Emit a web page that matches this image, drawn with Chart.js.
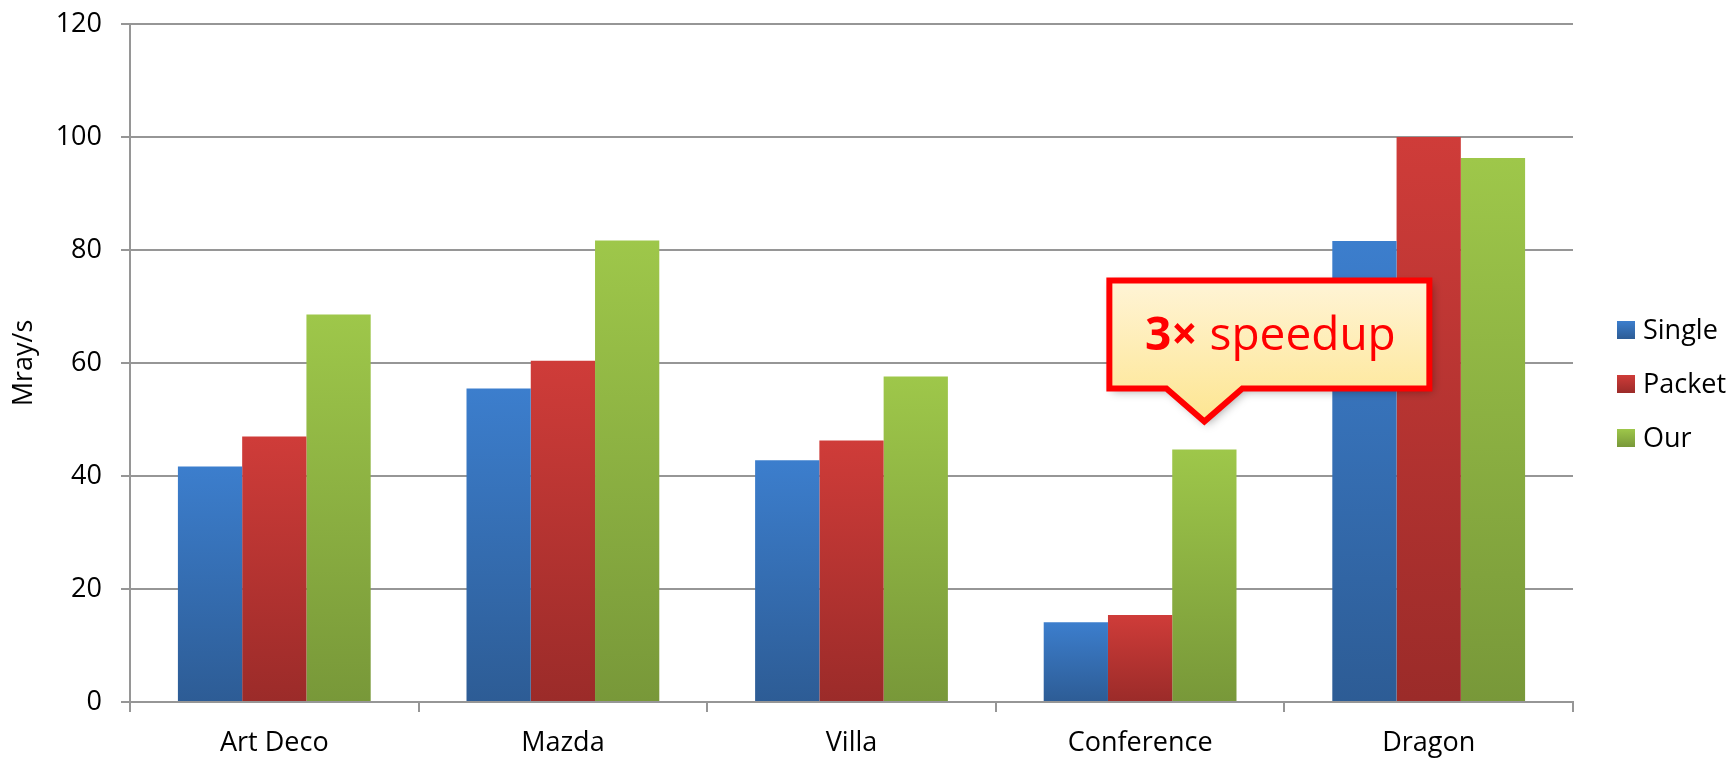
<!DOCTYPE html>
<html>
<head>
<meta charset="utf-8">
<title>Mray/s</title>
<script src="https://cdn.jsdelivr.net/npm/chart.js@4/dist/chart.umd.min.js"></script>
<style>
  html, body { margin: 0; padding: 0; background: #fff; }
  #wrap { width: 1733px; height: 759px; }
</style>
</head>
<body>
<div id="wrap"><canvas id="chart" width="1733" height="759"></canvas></div>
<script>
// Escenas y rendimiento (Mray/s) de cada variante
const escenas = ['Art Deco', 'Mazda', 'Villa', 'Conference', 'Dragon'];
const single = [41.7, 55.5, 42.8, 14.1, 81.6];
const packet = [47.0, 60.4, 46.3, 15.4, 100.0];
const our = [68.6, 81.7, 57.6, 44.7, 96.3];
const series = ['Single', 'Packet', 'Our'];
const yTicks = [0, 20, 40, 60, 80, 100, 120];

const FONT = '"Open Sans", "Noto Sans", sans-serif';

// Degradado vertical para cada barra (de arriba a la base)
function barFill(top, bottom) {
  return function (ctx) {
    const chart = ctx.chart;
    if (!chart.chartArea || ctx.type !== 'data') return top;
    const y = chart.scales.y;
    const yTop = y.getPixelForValue(ctx.raw);
    const yBase = y.getPixelForValue(0);
    if (!isFinite(yTop) || !isFinite(yBase) || yTop === yBase) return top;
    const g = chart.ctx.createLinearGradient(0, yTop, 0, yBase);
    g.addColorStop(0, top);
    g.addColorStop(1, bottom);
    return g;
  };
}

const colores = [
  ['#3c7ecd', '#2d5c95'],
  ['#cf3c39', '#9b2b29'],
  ['#9ec74a', '#789839']
];

// Leyenda dibujada a mano a la derecha del área del gráfico
const leyenda = {
  id: 'leyenda',
  afterDraw(chart) {
    const ctx = chart.ctx;
    const x = chart.chartArea.right + 44;
    const mid = 384;
    const paso = 54;
    ctx.save();
    ctx.font = '27px ' + FONT;
    ctx.textBaseline = 'middle';
    ctx.fillStyle = '#000';
    chart.data.datasets.forEach(function (ds, i) {
      const cy = mid + (i - 1) * paso;
      const g = ctx.createLinearGradient(0, cy - 9, 0, cy + 9);
      g.addColorStop(0, colores[i][0]);
      g.addColorStop(1, colores[i][1]);
      ctx.fillStyle = g;
      ctx.fillRect(x, cy - 9, 18, 18);
      ctx.fillStyle = '#000';
      ctx.fillText(ds.label, x + 26, cy + 1);
    });
    ctx.restore();
  }
};

// Globo "3× speedup" apuntando a la barra Our de Conference
const globo = {
  id: 'globo',
  afterDraw(chart) {
    const el = chart.getDatasetMeta(2).data[3];
    if (!el) return;
    const tx = el.x;
    const ty = el.y - 24;
    const L = tx - 95, R = tx + 225, T = ty - 145, B = ty - 37;
    const ctx = chart.ctx;
    ctx.save();
    ctx.beginPath();
    ctx.moveTo(L, T);
    ctx.lineTo(R, T);
    ctx.lineTo(R, B);
    ctx.lineTo(tx + 38, B);
    ctx.lineTo(tx, ty - 4);
    ctx.lineTo(tx - 38, B);
    ctx.lineTo(L, B);
    ctx.closePath();
    const g = ctx.createLinearGradient(0, T, 0, ty);
    g.addColorStop(0, '#fff4d6');
    g.addColorStop(1, '#fde58f');
    ctx.shadowColor = 'rgba(0,0,0,0.35)';
    ctx.shadowBlur = 10;
    ctx.shadowOffsetX = 3;
    ctx.shadowOffsetY = 3;
    ctx.fillStyle = g;
    ctx.fill();
    ctx.shadowColor = 'transparent';
    ctx.lineWidth = 6;
    ctx.lineJoin = 'miter';
    ctx.strokeStyle = '#ff0000';
    ctx.stroke();

    // Texto: "3×" en negrita y "speedup" normal
    const bold = 'bold 46px ' + FONT;
    const reg = '46px ' + FONT;
    ctx.font = bold;
    const w1 = ctx.measureText('3×').width;
    ctx.font = reg;
    const w2 = ctx.measureText(' speedup').width;
    const cx = tx + 66;
    const base = ty - 75;
    let x0 = cx - (w1 + w2) / 2;
    ctx.fillStyle = '#ff0000';
    ctx.textBaseline = 'alphabetic';
    ctx.font = bold;
    ctx.fillText('3×', x0, base);
    ctx.font = reg;
    ctx.fillText(' speedup', x0 + w1, base);
    ctx.restore();
  }
};

const datos = {
  labels: escenas,
  datasets: [
    { label: series[0], data: single, backgroundColor: barFill(colores[0][0], colores[0][1]) },
    { label: series[1], data: packet, backgroundColor: barFill(colores[1][0], colores[1][1]) },
    { label: series[2], data: our, backgroundColor: barFill(colores[2][0], colores[2][1]) }
  ]
};

new Chart(document.getElementById('chart'), {
  type: 'bar',
  data: datos,
  options: {
    responsive: false,
    animation: false,
    events: [],
    layout: { padding: { left: 0, right: 160, top: 24, bottom: 0 } },
    datasets: {
      bar: { categoryPercentage: 0.668, barPercentage: 1.0, borderWidth: 0 }
    },
    plugins: {
      legend: { display: false },
      tooltip: { enabled: false }
    },
    scales: {
      x: {
        grid: {
          offset: true,
          drawOnChartArea: false,
          drawTicks: true,
          tickLength: 10,
          color: '#969696',
          lineWidth: 2
        },
        border: { color: '#969696', width: 2 },
        ticks: {
          color: '#000',
          font: { family: FONT, size: 27 },
          padding: 15
        },
        afterFit(scale) {
          scale.height = 57;
          scale.paddingLeft = 0;
          scale.paddingRight = 0;
        }
      },
      y: {
        min: 0,
        max: 120,
        afterBuildTicks(scale) {
          scale.ticks = yTicks.map(function (v) { return { value: v }; });
        },
        grid: {
          color: '#969696',
          lineWidth: 2,
          tickLength: 9
        },
        border: { color: '#969696', width: 2 },
        ticks: {
          color: '#000',
          font: { family: FONT, size: 27 },
          padding: 19
        },
        title: {
          display: true,
          text: 'Mray/s',
          color: '#000',
          font: { family: FONT, size: 27 },
          padding: { top: 8, bottom: 0 }
        },
        afterFit(scale) {
          scale.width = 130;
          scale.paddingTop = 0;
          scale.paddingBottom = 0;
        }
      }
    }
  },
  plugins: [leyenda, globo]
});
</script>
</body>
</html>
